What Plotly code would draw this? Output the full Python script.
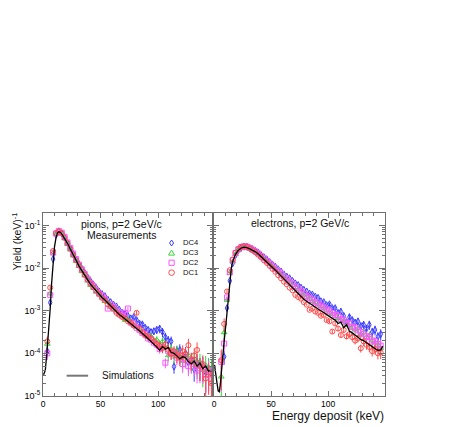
import plotly.graph_objects as go

# ---------------- data (log10 of yield, keV^-1) ----------------
energy_bins = [1.25, 3.75, 6.25, 8.75, 11.25, 13.75, 16.25, 18.75, 21.25, 23.75,
               26.25, 28.75, 31.25, 33.75, 36.25, 38.75, 41.25, 43.75, 46.25, 48.75,
               51.25, 53.75, 56.25, 58.75, 61.25, 63.75, 66.25, 68.75, 71.25, 73.75,
               76.25, 78.75, 81.25, 83.75, 86.25, 88.75, 91.25, 93.75, 96.25, 98.75,
               101.25, 103.75, 106.25, 108.75, 111.25, 113.75, 116.25, 118.75, 121.25, 123.75,
               126.25, 128.75, 131.25, 133.75, 136.25, 138.75, 141.25, 143.75, 146.25]

pion_dc4 = [None, -3.95, -2.81, -1.79, -1.22, -1.14, -1.19, -1.28, -1.41, -1.54,
            -1.67, -1.80, -1.91, -2.02, -2.12, -2.22, -2.31, -2.39, -2.47, -2.55,
            -2.61, -2.66, -2.74, -2.80, -2.86, -2.90, -2.98, -3.05, -3.08, -3.12,
            -3.18, -3.15, -3.22, -3.30, -3.32, -3.40, -3.45, -3.50, -3.48, -3.45,
            -3.42, -3.50, -3.62, -3.70, -3.72, -4.31, -3.95, -3.92, -4.10, -4.00,
            -4.22, -4.15, -4.38, -4.20, -4.30, -4.28, -4.45, -4.35, -4.50]
pion_dc3 = [None, -3.78, -2.60, -1.65, -1.20, -1.15, -1.20, -1.31, -1.44, -1.57,
            -1.71, -1.84, -1.96, -2.08, -2.18, -2.30, -2.40, -2.47, -2.56, -2.62,
            -2.70, -2.78, -2.80, -2.90, -2.98, -3.00, -3.10, -3.12, -3.22, -3.20,
            -3.28, -3.35, -3.38, -3.45, -3.50, -3.55, -3.62, -3.60, -3.70, -3.68,
            -3.80, -3.72, -3.85, -4.05, -3.90, -4.08, -3.95, -4.05, -4.18, -4.10,
            -4.05, -4.22, -4.15, -4.30, -4.20, -4.40, -4.28, -4.35, -4.38]
pion_dc2 = [None, -4.00, -2.63, -1.64, -1.19, -1.13, -1.17, -1.27, -1.40, -1.53,
            -1.66, -1.79, -1.92, -2.03, -2.14, -2.25, -2.35, -2.42, -2.52, -2.60,
            -2.66, -2.72, -2.95, -2.85, -2.92, -3.00, -3.05, -3.12, -3.05, -2.95,
            -3.28, -3.32, -3.40, -3.45, -3.52, -3.55, -3.65, -3.68, -3.75, -3.80,
            -3.90, -3.85, -4.22, -3.95, -4.00, -3.98, -4.10, -4.05, -4.25, -4.12,
            -4.30, -4.20, -4.25, -4.40, -4.35, -4.32, -4.50, -4.40, -4.60]
pion_dc1 = [None, -3.72, -2.46, -1.60, -1.18, -1.14, -1.18, -1.29, -1.42, -1.55,
            -1.69, -1.82, -1.94, -2.05, -2.16, -2.27, -2.37, -2.45, -2.53, -2.61,
            -2.70, -2.76, -2.85, -2.90, -2.95, -3.05, -3.10, -3.15, -3.18, -3.25,
            -3.28, -3.35, -3.05, -3.42, -3.50, -3.58, -3.60, -3.65, -3.72, -3.78,
            -3.82, -3.88, -3.80, -3.92, -4.00, -3.95, -4.05, -4.10, -3.95, -4.02,
            -3.81, -4.15, -4.05, -3.92, -4.30, -4.25, -4.59, -4.45, -4.70]
pion_relerr = [0.5, 0.3, 0.08, 0.03, 0.015, 0.01, 0.01, 0.01, 0.012, 0.012,
               0.014, 0.015, 0.016, 0.018, 0.02, 0.022, 0.025, 0.027, 0.03, 0.033,
               0.036, 0.04, 0.045, 0.05, 0.055, 0.06, 0.065, 0.07, 0.08, 0.085,
               0.09, 0.1, 0.11, 0.12, 0.13, 0.14, 0.15, 0.16, 0.18, 0.2,
               0.22, 0.24, 0.26, 0.28, 0.3, 0.32, 0.34, 0.36, 0.38, 0.4,
               0.42, 0.45, 0.48, 0.5, 0.55, 0.6, 0.65, 0.7, 0.75]

pion_sim_x = [0.5, 2.0, 3.5, 5.0, 6.25, 7.5, 8.75, 10.0, 11.25, 12.5, 13.75, 15.0, 16.25,
              18.75, 21.25, 23.75, 26.25, 28.75, 31.25, 33.75, 36.25, 38.75, 41.25,
              43.75, 46.25, 48.75, 51.25, 53.75, 56.25, 58.75, 61.25, 63.75, 66.25,
              68.75, 71.25, 73.75, 76.25, 78.75, 81.25, 83.75, 86.25, 88.75, 91.25,
              93.75, 96.25, 98.75, 101.25, 103.75, 106.25, 108.75, 111.25, 113.75, 116.25,
              118.75, 121.25, 123.75, 126.25, 128.75, 131.25, 133.75, 136.25, 138.75, 141.25,
              143.75, 146.25, 148.0]
pion_sim = [-4.5, -4.4, -3.95, -3.45, -2.95, -2.35, -1.85, -1.5, -1.3, -1.18, -1.15, -1.16, -1.2,
            -1.30, -1.42, -1.56, -1.70, -1.83, -1.95, -2.06, -2.17, -2.28, -2.38,
            -2.46, -2.54, -2.62, -2.69, -2.75, -2.82, -2.88, -2.95, -3.02, -3.09,
            -3.14, -3.20, -3.24, -3.30, -3.36, -3.42, -3.47, -3.54, -3.60, -3.66,
            -3.72, -3.78, -3.85, -3.93, -3.84, -3.90, -3.86, -3.98, -4.00, -4.06,
            -4.13, -4.08, -4.10, -4.20, -4.25, -4.18, -4.30, -4.23, -4.36, -4.30,
            -4.42, -4.40, -4.45]

elec_dc4 = [None, None, None, -4.08, -2.94, -2.30, -1.89, -1.70, -1.58, -1.52,
            -1.50, -1.50, -1.53, -1.56, -1.60, -1.64, -1.70, -1.75, -1.80, -1.86,
            -1.92, -1.97, -2.03, -2.08, -2.15, -2.20, -2.24, -2.30, -2.36, -2.40,
            -2.46, -2.51, -2.55, -2.60, -2.62, -2.67, -2.70, -2.78, -2.80, -2.87,
            -2.85, -2.94, -2.94, -3.05, -3.02, -3.12, -3.26, -3.15, -3.22, -3.28,
            -3.25, -3.36, -3.33, -3.42, -3.33, -3.50, -3.45, -3.61, -3.55]
elec_dc3 = [None, None, -4.55, -3.51, -2.75, -2.12, -1.85, -1.68, -1.58, -1.53,
            -1.51, -1.52, -1.55, -1.59, -1.63, -1.68, -1.73, -1.79, -1.84, -1.91,
            -1.96, -2.03, -2.08, -2.15, -2.20, -2.27, -2.32, -2.40, -2.45, -2.50,
            -2.58, -2.62, -2.68, -2.72, -2.78, -2.80, -2.86, -2.90, -2.95, -2.98,
            -3.05, -3.08, -3.12, -3.18, -3.22, -3.25, -3.30, -3.35, -3.38, -3.45,
            -3.42, -3.55, -3.50, -3.62, -3.58, -3.70, -3.75, -3.80, -3.88]
elec_dc2 = [None, None, -4.20, -3.77, -2.69, -2.10, -1.82, -1.65, -1.56, -1.51,
            -1.49, -1.50, -1.53, -1.57, -1.61, -1.66, -1.72, -1.77, -1.83, -1.89,
            -1.95, -2.01, -2.07, -2.13, -2.20, -2.25, -2.32, -2.37, -2.44, -2.48,
            -2.55, -2.60, -2.66, -2.70, -2.74, -2.80, -2.83, -2.88, -2.92, -2.97,
            -3.00, -3.05, -3.10, -3.12, -3.20, -3.22, -3.28, -3.30, -3.38, -3.40,
            -3.46, -3.50, -3.55, -3.60, -3.62, -3.70, -3.72, -3.78, -3.82]
elec_dc1 = [None, None, -4.16, -3.31, -2.55, -2.05, -1.80, -1.64, -1.55, -1.50,
            -1.49, -1.50, -1.54, -1.58, -1.63, -1.69, -1.75, -1.82, -1.88, -1.95,
            -2.02, -2.09, -2.17, -2.24, -2.32, -2.38, -2.46, -2.52, -2.63, -2.68,
            -2.72, -2.80, -2.86, -2.98, -2.95, -3.02, -3.05, -3.12, -3.10, -3.22,
            -3.25, -3.49, -3.30, -3.42, -3.57, -3.45, -3.60, -3.55, -3.62, -3.70,
            -3.65, -3.88, -3.72, -3.80, -3.85, -3.95, -3.90, -4.00, -3.98]
elec_relerr = [1.0, 1.0, 0.8, 0.35, 0.1, 0.04, 0.02, 0.015, 0.012, 0.01,
               0.01, 0.01, 0.01, 0.01, 0.012, 0.012, 0.014, 0.015, 0.016, 0.018,
               0.02, 0.022, 0.024, 0.026, 0.028, 0.03, 0.033, 0.036, 0.04, 0.043,
               0.046, 0.05, 0.055, 0.06, 0.065, 0.07, 0.075, 0.08, 0.085, 0.09,
               0.1, 0.11, 0.12, 0.13, 0.14, 0.15, 0.16, 0.17, 0.18, 0.19,
               0.2, 0.21, 0.22, 0.23, 0.24, 0.25, 0.26, 0.28, 0.3]

elec_sim_x = [0.3, 1.5, 2.5, 3.5, 4.5, 5.5, 6.5, 7.5, 8.75, 10.0, 11.25, 12.5, 13.75, 15.0, 16.25,
              18.75, 21.25, 23.75, 26.25, 28.75, 31.25, 33.75, 36.25, 38.75, 41.25,
              43.75, 46.25, 48.75, 51.25, 53.75, 56.25, 58.75, 61.25, 63.75, 66.25,
              68.75, 71.25, 73.75, 76.25, 78.75, 81.25, 83.75, 86.25, 88.75, 91.25,
              93.75, 96.25, 98.75, 101.25, 103.75, 106.25, 108.75, 111.25, 113.75, 116.25,
              118.75, 121.25, 123.75, 126.25, 128.75, 131.25, 133.75, 136.25, 138.75, 141.25,
              143.75, 146.25, 148.0]
elec_sim = [-4.27, -4.45, -4.7, -4.88, -4.9, -4.7, -4.35, -4.05, -3.72, -3.4, -3.05, -2.65, -2.3, -2.02, -1.85,
            -1.68, -1.58, -1.53, -1.51, -1.52, -1.55, -1.58, -1.62, -1.67, -1.73,
            -1.79, -1.85, -1.92, -1.98, -2.05, -2.12, -2.19, -2.26, -2.32, -2.39,
            -2.46, -2.52, -2.59, -2.66, -2.73, -2.78, -2.83, -2.87, -2.92, -2.96,
            -3.00, -3.05, -3.09, -3.13, -3.18, -3.22, -3.30, -3.27, -3.40, -3.33,
            -3.48, -3.52, -3.56, -3.62, -3.68, -3.70, -3.75, -3.80, -3.86, -3.89,
            -3.93, -3.92, -3.83]

series_names = ["DC4", "DC3", "DC2", "DC1"]
series_colors = ["#3a3aff", "#33d633", "#ff55ff", "#ff4a4a"]
series_symbols = ["diamond-tall-open", "triangle-up-open", "square-open", "circle-open"]
decade_ticks = [1e-5, 1e-4, 1e-3, 1e-2, 1e-1]
decade_labels = ["10<sup>-5</sup>", "10<sup>-4</sup>", "10<sup>-3</sup>", "10<sup>-2</sup>", "10<sup>-1</sup>"]
x_ticks = [0, 50, 100]

FONT = "Liberation Sans, Arial, Helvetica, sans-serif"
FRAME = "#6f6f6f"

fig = go.Figure()


def add_series(logs, relerr, color, symbol, xa, ya, name):
    xs, ys, up, dn = [], [], [], []
    for xi, v, r in zip(energy_bins, logs, relerr):
        if v is None:
            continue
        y = 10 ** v
        xs.append(xi)
        ys.append(y)
        up.append(y * r)
        lo = max(y * (1 - r), 3e-6)
        dn.append(y - lo)
    fig.add_trace(go.Scatter(
        x=xs, y=ys, mode="markers", xaxis=xa, yaxis=ya, name=name, showlegend=False,
        marker=dict(symbol=symbol, size=5, color=color, line=dict(width=1, color=color)),
        error_y=dict(type="data", array=up, arrayminus=dn, symmetric=False,
                     color=color, thickness=1, width=0),
    ))


pion_sets = [pion_dc4, pion_dc3, pion_dc2, pion_dc1]
elec_sets = [elec_dc4, elec_dc3, elec_dc2, elec_dc1]
for vals, c, s, n in zip(pion_sets, series_colors, series_symbols, series_names):
    add_series(vals, pion_relerr, c, s, "x", "y", n)
for vals, c, s, n in zip(elec_sets, series_colors, series_symbols, series_names):
    add_series(vals, elec_relerr, c, s, "x2", "y2", n)

fig.add_trace(go.Scatter(x=pion_sim_x, y=[10 ** v for v in pion_sim], mode="lines",
                         xaxis="x", yaxis="y", line=dict(color="black", width=1.3),
                         showlegend=False, name="Simulations"))
fig.add_trace(go.Scatter(x=elec_sim_x, y=[10 ** v for v in elec_sim], mode="lines",
                         xaxis="x2", yaxis="y2", line=dict(color="black", width=1.3),
                         showlegend=False, name="Simulations"))

minor_y = [m * d for d in [1e-5, 1e-4, 1e-3, 1e-2, 1e-1] for m in range(2, 10)]

xcommon = dict(ticks="inside", ticklen=5, tickwidth=1, tickcolor=FRAME,
               tickvals=x_ticks, showline=True, linecolor=FRAME, linewidth=1,
               mirror="ticks", showgrid=False, zeroline=False, automargin=False,
               tickfont=dict(size=8.5, color="black", family=FONT),
               minor=dict(ticks="inside", ticklen=3, dtick=10, tick0=0, tickcolor=FRAME, showgrid=False))
ycommon = dict(type="log", range=[-5, -0.71], ticks="inside", ticklen=6, tickwidth=1,
               tickcolor=FRAME, tickvals=decade_ticks, ticktext=decade_labels,
               showline=True, linecolor=FRAME, linewidth=1, mirror="ticks",
               showgrid=False, zeroline=False, automargin=False,
               tickfont=dict(size=9, color="black", family=FONT),
               minor=dict(ticks="inside", ticklen=3, tickmode="array", tickvals=minor_y,
                          tickcolor=FRAME, showgrid=False))

# the page body adds an 8px offset, so the figure is sized to fit inside the window
fig.update_layout(
    width=454, height=419,
    margin=dict(l=35, r=77, t=205, b=31),
    paper_bgcolor="white", plot_bgcolor="white",
    showlegend=False,
    font=dict(family=FONT, color="black"),
    xaxis=dict(domain=[0, 0.4985], range=[0, 148], anchor="y", **xcommon),
    xaxis2=dict(domain=[0.4985, 1], range=[-0.6, 150], anchor="y2", **xcommon),
    yaxis=dict(domain=[0, 1], anchor="x", **ycommon),
    yaxis2=dict(domain=[0, 1], anchor="x2", showticklabels=False,
                **{k: v for k, v in ycommon.items() if k not in ("tickfont",)}),
)

annots = [
    dict(text="pions, p=2 GeV/c", x=0.230, y=0.940, size=10.5),
    dict(text="Measurements", x=0.230, y=0.880, size=10.5),
    dict(text="electrons, p=2 GeV/c", x=0.7515, y=0.944, size=10.5),
]
for a in annots:
    fig.add_annotation(text=a["text"], x=a["x"], y=a["y"], xref="paper", yref="paper",
                       xanchor="center", yanchor="middle", showarrow=False,
                       font=dict(size=a["size"], family=FONT, color="#111"))

# legend for measurements: one multi-line text block plus marker keys
leg_x = 0.376
leg_text_x = 0.4056
leg_rows = [0.836, 0.782, 0.728, 0.674]
marker_paths = [
    "M 0 3 L 2 0 L 0 -3 L -2 0 Z",
    "M -3 -2.2 L 3 -2.2 L 0 2.8 Z",
    None,
    None,
]
for i, col in enumerate(series_colors):
    yy = leg_rows[i]
    base = dict(xref="paper", yref="paper", xsizemode="pixel", ysizemode="pixel",
                xanchor=leg_x, yanchor=yy, line=dict(color=col, width=1),
                fillcolor="rgba(0,0,0,0)")
    if i in (0, 1):
        fig.add_shape(type="path", path=marker_paths[i], **base)
    elif i == 2:
        fig.add_shape(type="rect", x0=-2.6, x1=2.6, y0=-2.6, y1=2.6, **base)
    else:
        fig.add_shape(type="circle", x0=-2.8, x1=2.8, y0=-2.8, y1=2.8, **base)
fig.add_annotation(text="<br>".join(series_names), x=leg_text_x, y=(leg_rows[0] + leg_rows[-1]) / 2,
                   xref="paper", yref="paper", xanchor="left", yanchor="middle",
                   align="left", showarrow=False, borderpad=0,
                   font=dict(size=7.6, family=FONT, color="#111"))

# legend for simulation
fig.add_shape(type="line", xref="paper", yref="paper", x0=0.069, x1=0.132, y0=0.111, y1=0.111,
              line=dict(color="#777", width=2))
fig.add_annotation(text="Simulations", x=0.1667, y=0.111, xref="paper", yref="paper",
                   xanchor="left", yanchor="middle", showarrow=False,
                   font=dict(size=10, family=FONT, color="#111"))

# axis titles
fig.add_annotation(text="Energy deposit (keV)", x=1.0, y=-0.108, xref="paper", yref="paper",
                   xanchor="right", yanchor="middle", showarrow=False, borderpad=0,
                   font=dict(size=12, family=FONT, color="#111"))
fig.add_annotation(text="Yield (keV)<sup>-1</sup>", x=-0.078, y=1.012, xref="paper", yref="paper",
                   xanchor="center", yanchor="top", textangle=-90, showarrow=False, borderpad=0,
                   font=dict(size=10.5, family=FONT, color="#111"))

fig.write_html("out.html")
